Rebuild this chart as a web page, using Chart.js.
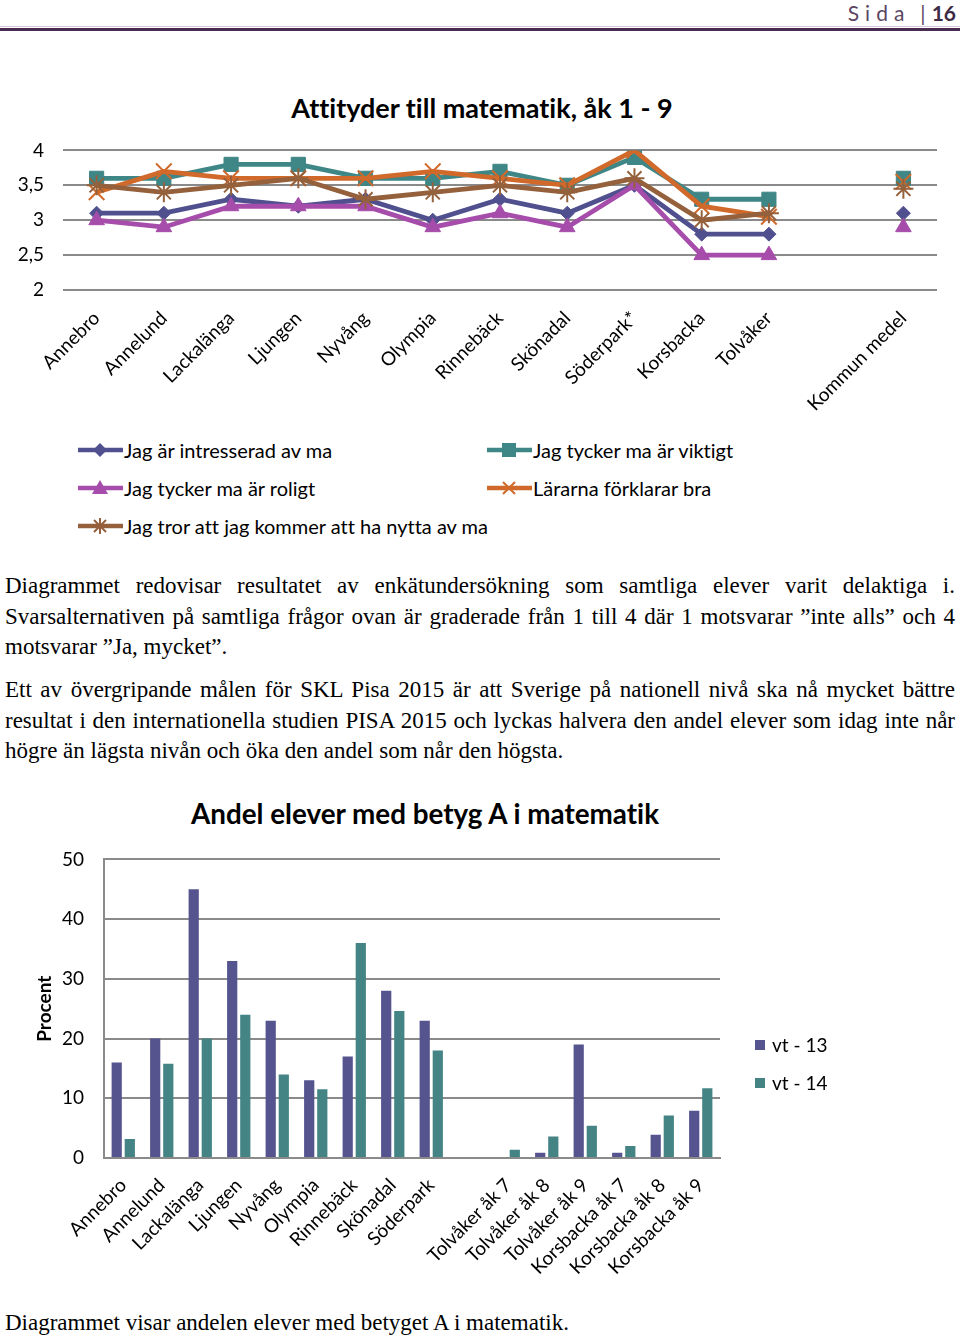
<!DOCTYPE html>
<html><head><meta charset="utf-8">
<script src="https://cdn.jsdelivr.net/npm/chart.js@4.4.1/dist/chart.umd.min.js"></script>
<style>
html,body{margin:0;padding:0;}
body{width:960px;height:1338px;position:relative;background:#fff;overflow:hidden;font-family:Lato,"Open Sans",sans-serif;color:#000;font-variant-ligatures:none;}
.abs{position:absolute;}
.hdr{top:0;right:4px;font-size:21px;line-height:26px;color:#5a4662;white-space:nowrap;}
.hdr .s{letter-spacing:6px;}
.hdr .n{font-weight:bold;color:#3d2a45;}
.rule{left:0;top:28px;width:960px;height:3px;background:#4a2c52;}
.rule2{left:0;top:26px;width:960px;height:1px;background:#d8c6da;}
.title{font-weight:bold;white-space:nowrap;transform:translateX(-50%);}
.leg{font-size:20px;line-height:24px;white-space:nowrap;}
.leg svg{position:absolute;top:0;}
.para{left:5px;width:950px;font-family:"Liberation Serif","Times New Roman",serif;font-size:23px;line-height:30.5px;}
.para .j{text-align:justify;text-align-last:justify;}
.bleg{font-size:19px;line-height:22px;white-space:nowrap;}
.bleg i{display:inline-block;width:10px;height:10px;margin-right:7px;vertical-align:middle;position:relative;top:-2px;}
</style></head>
<body>
<div class="abs rule2"></div>
<div class="abs rule"></div>
<div class="abs hdr"><span class="s" style="margin-right:10px;">Sida</span><span style="margin:0 6px 0 0;">|</span><span class="n">16</span></div>

<div class="abs title" id="t1" style="left:482px;top:91px;font-size:27px;">Attityder till matematik, åk 1 - 9</div>
<canvas id="c1" class="abs" style="left:0;top:120px;" width="960" height="310"></canvas>
<div id="legend1"></div>

<div class="abs para" style="top:571px;">
  <div class="j">Diagrammet redovisar resultatet av enkätundersökning som samtliga elever varit delaktiga i.</div>
  <div class="j">Svarsalternativen på samtliga frågor ovan är graderade från 1 till 4 där 1 motsvarar ”inte alls” och 4</div>
  <div>motsvarar ”Ja, mycket”.</div>
</div>
<div class="abs para" style="top:675px;">
  <div class="j">Ett av övergripande målen för SKL Pisa 2015 är att Sverige på nationell nivå ska nå mycket bättre</div>
  <div class="j">resultat i den internationella studien PISA 2015 och lyckas halvera den andel elever som idag inte når</div>
  <div>högre än lägsta nivån och öka den andel som når den högsta.</div>
</div>

<div class="abs title" style="left:425px;top:797px;font-size:27.8px;">Andel elever med betyg A i matematik</div>
<canvas id="c2" class="abs" style="left:0;top:828px;" width="960" height="472"></canvas>
<div id="legend2"></div>

<div class="abs para" style="top:1308px;">Diagrammet visar andelen elever med betyget A i matematik.</div>

<script>
// ---------- Data: Attityder till matematik ----------
const schools = ["Annebro","Annelund","Lackalänga","Ljungen","Nyvång","Olympia","Rinnebäck","Skönadal","Söderpark*","Korsbacka","Tolvåker","","Kommun medel"];
const intresserad = [3.1, 3.1, 3.3, 3.2, 3.3, 3.0, 3.3, 3.1, 3.5, 2.8, 2.8, null, 3.1];
const viktigt     = [3.6, 3.6, 3.8, 3.8, 3.6, 3.6, 3.7, 3.5, 3.9, 3.3, 3.3, null, 3.6];
const roligt      = [3.0, 2.9, 3.2, 3.2, 3.2, 2.9, 3.1, 2.9, 3.5, 2.5, 2.5, null, 2.9];
const forklarar   = [3.4, 3.7, 3.6, 3.6, 3.6, 3.7, 3.6, 3.5, 4.0, 3.2, 3.05, null, 3.55];
const nytta       = [3.5, 3.4, 3.5, 3.6, 3.3, 3.4, 3.5, 3.4, 3.6, 3.0, 3.1, null, 3.45];
const lineSeriesNames = ["Jag är intresserad av ma","Jag tycker ma är viktigt","Jag tycker ma är roligt","Lärarna förklarar bra","Jag tror att jag kommer att ha nytta av ma"];
const yTicks1 = [2, 2.5, 3, 3.5, 4];

// ---------- Data: Andel elever med betyg A ----------
const units = ["Annebro","Annelund","Lackalänga","Ljungen","Nyvång","Olympia","Rinnebäck","Skönadal","Söderpark","","Tolvåker åk 7","Tolvåker åk 8","Tolvåker åk 9","Korsbacka åk 7","Korsbacka åk 8","Korsbacka åk 9"];
const vt13 = [16, 20, 45, 33, 23, 13, 17, 28, 23, null, null, 0.9, 19, 0.9, 3.9, 7.9];
const vt14 = [3.2, 15.8, 20, 24, 14, 11.5, 36, 24.6, 18, null, 1.4, 3.6, 5.4, 2, 7.1, 11.7];
const barSeriesNames = ["vt - 13","vt - 14"];
const yTicks2 = [0, 10, 20, 30, 40, 50];

Chart.defaults.font.family = 'Lato, "Open Sans", sans-serif';
Chart.defaults.color = '#000';

const C = {blue:'#50508f', teal:'#3f8686', purple:'#a64caa', orange:'#d0692a', brown:'#94613c'};

function ds(label, data, color, style, radius, bw, order){
  return {label, data, borderColor:color, backgroundColor:color, borderWidth:4.8,
    pointStyle:style, pointRadius:radius, pointBorderWidth:bw, pointBackgroundColor:color,
    pointBorderColor:color, tension:0, spanGaps:false, order};
}

new Chart(document.getElementById('c1'), {
  type:'line',
  data:{labels:schools, datasets:[
    ds(lineSeriesNames[0], intresserad, C.blue, 'rectRot', 7, 1, 5),
    ds(lineSeriesNames[1], viktigt, C.teal, 'rect', 10, 1, 4),
    ds(lineSeriesNames[2], roligt, C.purple, 'triangle', 9, 1, 3),
    ds(lineSeriesNames[3], forklarar, C.orange, 'crossRot', 11, 2, 2),
    ds(lineSeriesNames[4], nytta, C.brown, 'star', 10, 2, 1)
  ]},
  options:{
    responsive:false, animation:false, events:[],
    layout:{padding:{top:0,right:23,left:0,bottom:0}},
    plugins:{legend:{display:false}, tooltip:{enabled:false}},
    scales:{
      y:{min:2,max:4,
        afterBuildTicks(s){s.ticks = yTicks1.map(v=>({value:v}));},
        ticks:{callback:v=>String(v).replace('.',','), font:{size:19}, padding:19},
        grid:{color:'#8a8a8a', lineWidth:2, drawTicks:false},
        border:{display:false},
        afterFit(s){s.width=63;}},
      x:{offset:true, grid:{display:false, drawTicks:false}, border:{display:false},
        ticks:{autoSkip:false, minRotation:45, maxRotation:45, font:{size:19}, padding:17},
        afterFit(s){s.height=140;}}
    }
  }
});

new Chart(document.getElementById('c2'), {
  type:'bar',
  data:{labels:units, datasets:[
    {label:barSeriesNames[0], data:vt13, backgroundColor:'#55548f', categoryPercentage:0.68, barPercentage:0.78},
    {label:barSeriesNames[1], data:vt14, backgroundColor:'#458484', categoryPercentage:0.68, barPercentage:0.78}
  ]},
  options:{
    responsive:false, animation:false, events:[],
    layout:{padding:{top:0,right:240,left:0,bottom:0}},
    plugins:{legend:{display:false}, tooltip:{enabled:false}},
    scales:{
      y:{min:0,max:50,
        afterBuildTicks(s){s.ticks = yTicks2.map(v=>({value:v}));},
        ticks:{font:{size:19}, padding:20},
        grid:{color:'#8a8a8a', lineWidth:2, drawTicks:false},
        border:{display:true, color:'#8a8a8a', width:2},
        title:{display:true, text:'Procent', font:{size:19, weight:'bold'}, padding:{top:33,bottom:0}},
        afterFit(s){s.width=104;}},
      x:{grid:{display:false, drawTicks:false}, border:{display:true, color:'#8a8a8a', width:2},
        ticks:{autoSkip:false, minRotation:45, maxRotation:45, font:{size:19}, padding:16},
        afterFit(s){s.height=142;}}
    }
  }
});

// ---------- HTML legends ----------
function markerSVG(kind, color){
  let m='';
  if(kind==='diamond') m=`<polygon points="22,3 29,10 22,17 15,10" fill="${color}"/>`;
  if(kind==='square') m=`<rect x="15" y="3" width="14" height="14" fill="${color}"/>`;
  if(kind==='triangle') m=`<polygon points="22,2 30,16 14,16" fill="${color}"/>`;
  if(kind==='x') m=`<path d="M16 4 L28 16 M16 16 L28 4" stroke="${color}" stroke-width="2" fill="none"/>`;
  if(kind==='star') m=`<path d="M16 4 L28 16 M16 16 L28 4 M22 2 L22 18" stroke="${color}" stroke-width="2" fill="none"/>`;
  return `<svg width="45" height="20" viewBox="0 0 45 20"><line x1="0" y1="10" x2="45" y2="10" stroke="${color}" stroke-width="4.5"/>${m}</svg>`;
}
const leg1 = [
  {x:78, y:450, kind:'diamond', color:C.blue, name:lineSeriesNames[0]},
  {x:487, y:450, kind:'square', color:C.teal, name:lineSeriesNames[1]},
  {x:78, y:488, kind:'triangle', color:C.purple, name:lineSeriesNames[2]},
  {x:487, y:488, kind:'x', color:C.orange, name:lineSeriesNames[3]},
  {x:78, y:526, kind:'star', color:C.brown, name:lineSeriesNames[4]}
];
document.getElementById('legend1').innerHTML = leg1.map(l=>
  `<div class="abs leg" style="left:${l.x}px;top:${l.y-12}px;"><span style="position:absolute;left:0;top:2px;">${markerSVG(l.kind,l.color)}</span><span style="position:absolute;left:46px;top:0;">${l.name}</span></div>`).join('');

document.getElementById('legend2').innerHTML =
  `<div class="abs bleg" style="left:755px;top:1034px;"><i style="background:#55548f"></i>${barSeriesNames[0]}</div>`+
  `<div class="abs bleg" style="left:755px;top:1072px;"><i style="background:#458484"></i>${barSeriesNames[1]}</div>`;
</script>
</body></html>
